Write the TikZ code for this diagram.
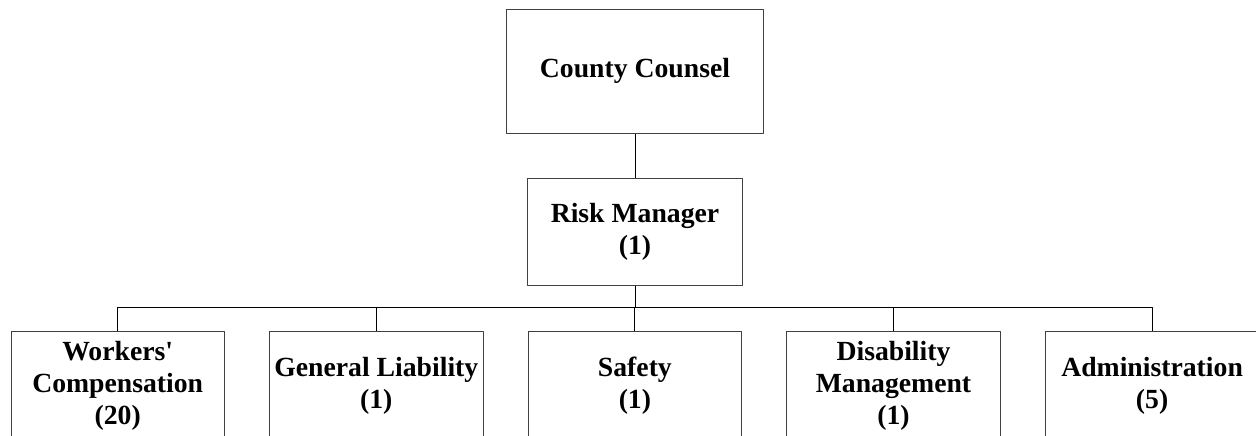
\documentclass[tikz,border=0pt]{standalone}
\usepackage{fontspec}
\setmainfont{Liberation Serif}
\tikzset{
	unit/.style={draw=black!75, line width=0.9pt, align=center, inner sep=0pt,
		font=\fontsize{27.7}{32}\selectfont\bfseries},
	link/.style={draw=black, line width=1pt}
}
\begin{document}
\begin{tikzpicture}[x=1pt, y=-1pt, line join=round]
	\useasboundingbox (0,0) rectangle (1256,436);
	% top of the chart
	\node[unit, minimum width=256.7pt, minimum height=124.3pt] (cc) at (635,71.2) {County Counsel};
	\node[unit, minimum width=214.3pt, minimum height=106.7pt] (rm) at (635,231.7) {Risk Manager\\(1)};
	\coordinate (bus) at (635,307.3);
	\draw[link] (cc) -- (rm);
	\draw[link] (rm) -- (bus);
	% units under the risk manager
	\foreach \n/\x/\t in {wc/117.7/{Workers\textquotesingle\\Compensation\\(20)},
		gl/376.3/{General Liability\\(1)},
		sf/634.9/{Safety\\(1)},
		dm/893.5/{Disability\\Management\\(1)},
		ad/1152.1/{Administration\\(5)}} {
		\node[unit, anchor=north, minimum width=213.5pt, minimum height=110pt] (\n) at (\x,330.7) {\t};
		\draw[link] (bus) -| (\n.north);
	}
\end{tikzpicture}
\end{document}
